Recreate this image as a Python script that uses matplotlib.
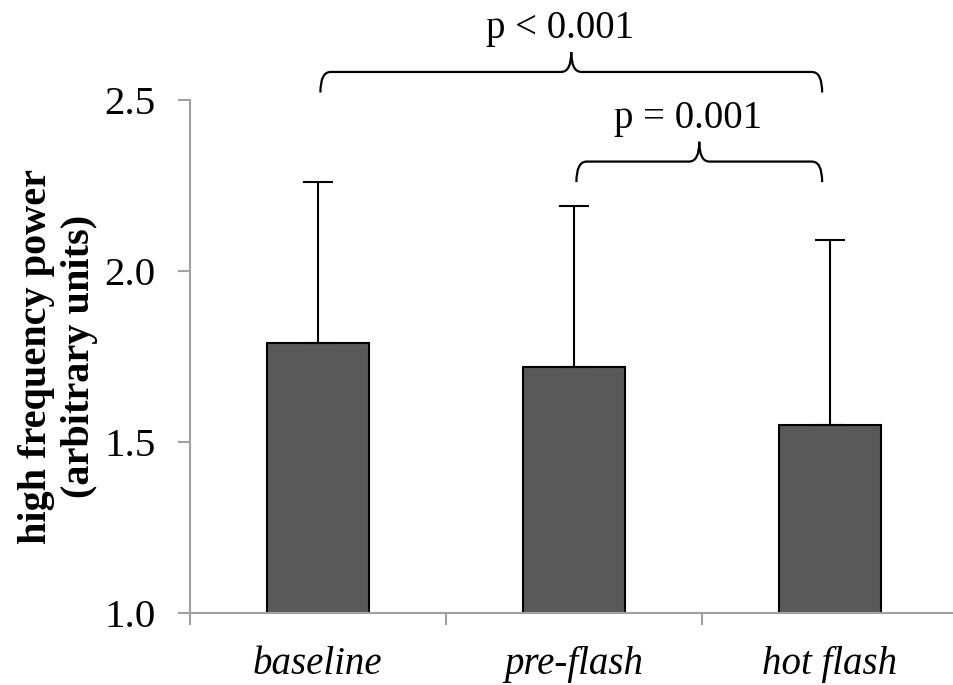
import matplotlib.pyplot as plt
from matplotlib.path import Path
from matplotlib.patches import PathPatch

categories = ['baseline', 'pre-flash', 'hot flash']
means = [1.79, 1.72, 1.55]
sd_upper = [0.47, 0.47, 0.54]

# brackets: (start category, end category, label)
comparisons = [(0, 2, 'p < 0.001'), (1, 2, 'p = 0.001')]
bracket_y = [2.582, 2.32]

plt.rcParams['font.family'] = ['Liberation Serif', 'DejaVu Serif']


def brace(ax, x0, x1, y, drop, tip, rx):
    xm = (x0 + x1) / 2
    verts = [(x0, y - drop), (x0, y), (x0 + rx, y),
             (xm - rx, y), (xm, y), (xm, y + tip),
             (xm, y), (xm + rx, y),
             (x1 - rx, y), (x1, y), (x1, y - drop)]
    codes = [Path.MOVETO, Path.CURVE3, Path.CURVE3,
             Path.LINETO, Path.CURVE3, Path.CURVE3,
             Path.CURVE3, Path.CURVE3,
             Path.LINETO, Path.CURVE3, Path.CURVE3]
    ax.add_patch(PathPatch(Path(verts, codes), fill=False, lw=1.6,
                           color='black', clip_on=False))
    return xm


fig = plt.figure(figsize=(9.54, 6.85), dpi=100)
ax = fig.add_axes([0.199, 0.105, 0.805, 0.749])

x = range(len(categories))
ax.bar(x, means, width=0.4, color='#595959', edgecolor='black',
       linewidth=1.5, zorder=2)
ax.errorbar(x, means, yerr=[[0] * 3, sd_upper], fmt='none', ecolor='black',
            elinewidth=1.5, capsize=11, capthick=1.5, zorder=3)

ax.set_xlim(-0.5, 2.5)
ax.set_ylim(1.0, 2.5)
ax.set_yticks([1.0, 1.5, 2.0, 2.5])
ax.set_yticklabels(['1.0', '1.5', '2.0', '2.5'])
ax.set_xticks([-0.5, 0.5, 1.5])
ax.set_xticklabels([])
ax.set_xticks(list(x), minor=True)
ax.set_xticklabels(categories, minor=True, style='italic', fontsize=28)
ax.tick_params(axis='x', which='minor', length=0, pad=24)
ax.tick_params(axis='x', which='major', length=8.6, color='#a0a0a0', width=1.5)
ax.tick_params(axis='y', length=8.6, color='#a0a0a0', width=1.5,
               labelsize=29.5, pad=16)

for side in ['top', 'right']:
    ax.spines[side].set_visible(False)
for side in ['left', 'bottom']:
    ax.spines[side].set_color('#a0a0a0')
    ax.spines[side].set_linewidth(1.5)

ax.set_ylabel('high frequency power\n(arbitrary units)', fontsize=29,
              fontweight='bold', linespacing=1.2)
ax.yaxis.set_label_coords(-0.12, 0.5)

for (i0, i1, label), yb in zip(comparisons, bracket_y):
    xm = brace(ax, i0 + 0.01, i1 - 0.03, yb, 0.06, 0.058, 0.04)
    ax.text(xm - 0.045, yb + 0.099, label, ha='center', va='baseline',
            fontsize=28)

fig.savefig('out.png', dpi=100)
